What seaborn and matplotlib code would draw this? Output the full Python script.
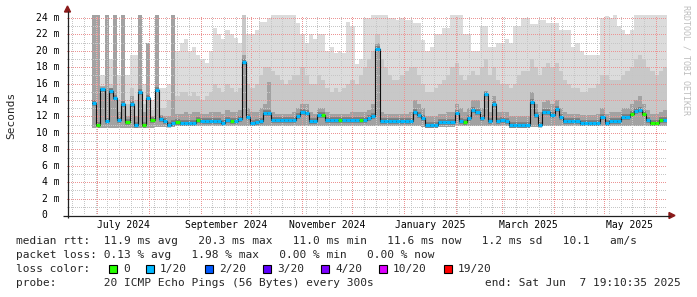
import datetime as dt
import numpy as np
import pandas as pd
import matplotlib
matplotlib.use("Agg")
import matplotlib.pyplot as plt
import matplotlib.dates as mdates
import matplotlib.transforms as mtransforms
from matplotlib.ticker import MultipleLocator, NullFormatter
from matplotlib.patches import Rectangle, Polygon
import seaborn as sns

# ---------------- data ----------------
END = dt.datetime(2025, 6, 7, 19, 10, 35)
SPAN_DAYS = 360
STEP_DAYS = 2.5
FIRST_COLUMN = 6          # first column (of 2.5 days) that holds data

# median rtt per column (ms)
median_ms = [
    13.7, 11.0, 15.3, 11.4, 15.1, 14.3, 11.6, 13.5, 11.3, 13.5,
    11.0, 15.0, 11.0, 14.2, 11.6, 15.2, 11.7, 11.4, 11.0, 11.2,
    11.3, 11.2, 11.2, 11.2, 11.2, 11.6, 11.4, 11.4, 11.4, 11.4,
    11.4, 11.2, 11.6, 11.4, 11.4, 11.7, 18.6, 11.9, 11.2, 11.3,
    11.5, 12.4, 12.4, 11.6, 11.6, 11.6, 11.6, 11.6, 11.6, 12.0,
    12.5, 12.4, 11.4, 11.4, 12.2, 12.2, 11.6, 11.6, 11.6, 11.6,
    11.6, 11.6, 11.6, 11.6, 11.6, 11.6, 11.8, 12.1, 20.2, 11.4,
    11.4, 11.4, 11.4, 11.4, 11.4, 11.4, 11.4, 12.6, 12.2, 11.8,
    11.0, 11.0, 11.0, 11.3, 11.3, 11.3, 11.3, 12.4, 11.5, 11.3,
    11.8, 12.8, 12.5, 11.8, 14.7, 11.4, 13.5, 11.5, 11.6, 11.5,
    11.0, 11.0, 11.0, 11.0, 11.0, 13.8, 12.2, 11.0, 12.6, 12.6,
    12.2, 12.9, 11.9, 11.4, 11.4, 11.4, 11.4, 11.2, 11.2, 11.2,
    11.2, 11.2, 11.9, 11.2, 11.4, 11.4, 11.4, 11.9, 11.9, 12.3,
    12.7, 12.8, 12.3, 11.6, 11.2, 11.2, 11.6, 11.6,
]

# loss level per column: 0 -> "0", 1 -> "1/20"
loss_level = [
    1, 0, 1, 1, 1, 1, 1, 1, 0, 1,
    1, 1, 0, 1, 0, 1, 1, 1, 1, 1,
    0, 1, 1, 1, 1, 0, 1, 1, 1, 1,
    1, 1, 1, 0, 1, 1, 1, 1, 1, 1,
    1, 1, 1, 1, 1, 1, 1, 1, 1, 1,
    1, 1, 1, 1, 1, 0, 1, 1, 1, 0,
    1, 1, 1, 1, 0, 1, 1, 1, 1, 1,
    1, 1, 1, 1, 1, 1, 1, 1, 1, 1,
    1, 1, 1, 1, 1, 1, 1, 1, 1, 0,
    1, 1, 1, 1, 1, 1, 1, 1, 1, 1,
    1, 1, 1, 1, 1, 1, 1, 1, 1, 1,
    1, 1, 1, 1, 1, 1, 1, 1, 1, 1,
    1, 1, 1, 1, 1, 1, 1, 1, 1, 0,
    1, 1, 0, 1, 0, 0, 0, 1,
]

# smoke: highest ping per column (ms)
smoke_top = [
    22.0, 24.4, 17.0, 24.4, 19.0, 24.4, 17.0, 24.4, 17.0, 19.5,
    19.5, 24.4, 16.0, 21.0, 14.0, 24.4, 15.5, 15.5, 16.0, 24.4,
    20.0, 21.0, 21.5, 20.0, 20.5, 19.5, 19.0, 18.5, 20.0, 22.8,
    22.0, 21.5, 22.5, 22.0, 21.6, 21.0, 24.4, 22.0, 22.0, 22.5,
    23.5, 23.5, 24.0, 24.4, 24.4, 24.4, 24.4, 24.4, 24.4, 23.4,
    22.0, 21.0, 22.0, 21.5, 22.0, 22.0, 20.0, 20.5, 19.7, 20.0,
    19.7, 23.5, 23.0, 18.4, 19.0, 24.0, 24.0, 24.4, 24.4, 24.4,
    24.4, 24.0, 24.0, 23.8, 24.0, 23.8, 23.8, 23.4, 23.4, 21.3,
    20.0, 20.5, 22.0, 22.0, 22.8, 22.8, 24.4, 24.4, 24.4, 22.0,
    22.0, 20.0, 20.0, 23.0, 23.0, 20.5, 20.5, 21.0, 21.0, 21.5,
    21.0, 23.0, 23.0, 24.0, 24.0, 23.3, 23.3, 23.8, 23.8, 23.4,
    23.4, 23.4, 22.5, 22.5, 22.5, 20.5, 21.0, 20.0, 19.5, 19.5,
    19.5, 19.5, 24.0, 24.2, 24.0, 24.4, 23.0, 22.5, 22.0, 22.5,
    24.4, 24.4, 24.4, 24.4, 24.4, 24.4, 24.4, 24.4,
]

# smoke: upper edge of the medium grey part (ms)
smoke_mid = [
    17.0, 24.4, 15.5, 24.4, 16.0, 24.4, 14.0, 24.4, 13.5, 15.5,
    14.0, 24.4, 13.5, 21.0, 12.8, 24.4, 13.0, 13.0, 14.0, 24.4,
    14.5, 15.0, 15.0, 14.5, 15.0, 14.5, 14.0, 14.5, 15.0, 16.0,
    15.5, 15.0, 16.0, 15.5, 15.0, 15.5, 24.4, 16.0, 15.5, 16.0,
    17.0, 18.0, 18.0, 17.5, 17.0, 16.5, 16.0, 16.5, 17.0, 17.0,
    18.0, 17.0, 16.0, 16.0, 17.0, 16.5, 15.5, 15.0, 15.5, 15.0,
    15.5, 16.0, 16.5, 16.0, 17.0, 18.0, 19.0, 20.0, 22.0, 19.0,
    18.0, 17.0, 16.5, 16.5, 17.0, 17.5, 18.0, 18.0, 17.0, 16.0,
    15.0, 15.0, 15.5, 16.0, 16.5, 17.0, 18.0, 18.5, 17.0, 16.5,
    17.0, 17.5, 17.0, 18.0, 19.0, 17.0, 18.0, 16.5, 16.0, 16.0,
    15.5, 16.0, 17.0, 17.5, 17.5, 19.0, 18.0, 17.0, 18.0, 18.5,
    18.0, 18.5, 17.5, 16.5, 16.0, 15.5, 15.5, 15.0, 15.0, 15.5,
    15.5, 16.0, 17.0, 17.0, 16.5, 16.5, 16.5, 17.0, 17.5, 18.0,
    19.0, 19.5, 19.0, 18.0, 17.5, 17.0, 17.5, 18.0,
]

# smoke: upper edge of the dark grey part (ms)
smoke_dark = [
    24.4, 24.4, 15.5, 24.4, 15.5, 24.4, 12.5, 24.4, 12.0, 14.5,
    12.0, 24.4, 12.5, 21.0, 12.0, 24.4, 12.2, 12.0, 12.0, 24.4,
    12.3, 12.3, 12.5, 12.3, 12.5, 12.5, 12.3, 12.3, 12.5, 12.5,
    12.5, 12.3, 12.8, 12.5, 12.5, 12.8, 19.5, 13.0, 12.5, 12.5,
    13.0, 13.5, 16.2, 12.5, 12.3, 12.3, 12.3, 12.3, 12.5, 13.0,
    13.5, 13.5, 12.5, 12.3, 13.0, 13.0, 12.5, 12.3, 12.3, 12.3,
    12.3, 12.3, 12.5, 12.5, 12.5, 12.5, 12.8, 13.5, 21.0, 12.5,
    12.3, 12.3, 12.3, 12.3, 12.3, 12.3, 12.5, 14.0, 13.5, 13.0,
    12.0, 12.0, 12.0, 12.3, 12.3, 12.5, 12.5, 13.5, 13.0, 12.5,
    13.0, 14.0, 14.0, 13.0, 15.0, 12.5, 14.5, 12.5, 12.5, 12.5,
    12.0, 12.0, 12.0, 12.0, 12.0, 15.0, 13.5, 12.5, 13.8, 14.0,
    13.5, 14.0, 13.0, 12.5, 12.3, 12.3, 12.3, 12.2, 12.2, 12.2,
    12.2, 12.3, 13.0, 12.3, 12.5, 12.5, 12.5, 13.0, 13.0, 13.5,
    14.0, 14.5, 13.5, 12.8, 12.3, 12.3, 12.5, 12.8,
]

# smoke: lowest ping per column (ms)
smoke_floor = [
    10.6, 10.6, 10.6, 10.6, 10.6, 10.6, 10.6, 10.6, 10.6, 10.6,
    10.6, 10.6, 10.6, 10.6, 10.6, 10.7, 10.7, 10.7, 10.7, 10.7,
    10.8, 10.8, 10.8, 10.8, 10.8, 10.8, 10.8, 10.8, 10.8, 10.8,
    10.8, 10.8, 10.8, 10.8, 10.8, 10.8, 10.8, 10.8, 10.8, 10.8,
    10.9, 10.9, 10.9, 10.9, 10.9, 10.9, 10.9, 10.9, 10.9, 10.9,
    10.9, 10.9, 10.9, 10.9, 10.9, 10.9, 10.9, 10.9, 10.9, 10.9,
    10.9, 10.9, 10.9, 10.9, 10.9, 10.9, 10.9, 10.9, 10.9, 10.9,
    10.9, 10.9, 10.9, 10.9, 10.9, 10.9, 10.9, 10.9, 10.8, 10.7,
    10.6, 10.6, 10.6, 10.7, 10.7, 10.7, 10.7, 10.8, 10.8, 10.8,
    10.8, 10.8, 10.8, 10.8, 10.8, 10.8, 10.8, 10.8, 10.8, 10.8,
    10.6, 10.6, 10.6, 10.6, 10.6, 10.7, 10.7, 10.7, 10.8, 10.8,
    10.8, 10.8, 10.8, 10.8, 10.8, 10.8, 10.8, 10.8, 10.8, 10.8,
    10.8, 10.8, 10.8, 10.8, 10.8, 10.8, 10.8, 10.8, 10.8, 10.8,
    10.8, 10.8, 10.8, 10.8, 10.8, 10.8, 10.8, 10.8,
]

y_ticks_ms = [0, 2, 4, 6, 8, 10, 12, 14, 16, 18, 20, 22, 24]
month_labels = ["July 2024", "September 2024", "November 2024",
                "January 2025", "March 2025", "May 2025"]
month_starts = [(2024, 7), (2024, 9), (2024, 11), (2025, 1), (2025, 3), (2025, 5)]

loss_labels = ["0", "1/20", "2/20", "3/20", "4/20", "10/20", "19/20"]
loss_colors = ["#26ff00", "#00b8ff", "#0059ff", "#5e00ff", "#7e00ff", "#dd00ff", "#ff0000"]

line_rtt = "median rtt:  11.9 ms avg   20.3 ms max   11.0 ms min   11.6 ms now   1.2 ms sd   10.1   am/s"
line_loss = "packet loss: 0.13 % avg   1.98 % max   0.00 % min   0.00 % now"
line_color = "loss color:"
line_probe = "probe:       20 ICMP Echo Pings (56 Bytes) every 300s"
line_end = "end: Sat Jun  7 19:10:35 2025"
y_title = "Seconds"
watermark = "RRDTOOL / TOBI OETIKER"

# ---------------- drawing ----------------
sns.set_style("white")
plt.rcParams["font.family"] = ["DejaVu Sans Mono", "DejaVu Sans"]

W, H = 697, 297
fig = plt.figure(figsize=(W / 100, H / 100), dpi=100)
fig.patch.set_facecolor("white")

PX_PER_MS = 197 / 24.0
Y_TOP = 200 / PX_PER_MS
ax = fig.add_axes([67 / W, (H - 215) / H, 600 / W, 200 / H])
ax.set_facecolor("white")

start = END - dt.timedelta(days=SPAN_DAYS)
x0 = mdates.date2num(start)
x1 = mdates.date2num(END)
n = len(median_ms)
edges = x0 + (FIRST_COLUMN + np.arange(n + 1)) * STEP_DAYS

ax.stairs(smoke_top, edges, baseline=smoke_floor, fill=True, color="#dcdcdc", lw=0, zorder=1.0)
ax.stairs(smoke_mid, edges, baseline=smoke_floor, fill=True, color="#c8c8c8", lw=0, zorder=1.1)
ax.stairs(smoke_dark, edges, baseline=smoke_floor, fill=True, color="#a2a2a2", lw=0, zorder=1.2)

med = np.asarray(median_ms)
lvl = np.asarray(loss_level)
# dark haze around the median (horizontal only)
ax.hlines(med, edges[:-1], edges[1:], colors="#303030", lw=4.0, alpha=0.35, zorder=1.5)

df = pd.DataFrame({"t": edges, "rtt": list(median_ms) + [median_ms[-1]]})
sns.lineplot(data=df, x="t", y="rtt", drawstyle="steps-post", color="#101010",
             lw=0.8, estimator=None, ax=ax, zorder=3)

for k, col in enumerate(loss_colors):
    m = lvl == k
    if m.any():
        ax.hlines(med[m], edges[:-1][m], edges[1:][m], colors=col, lw=2.3, zorder=4)

ax.set_xlim(x0, x1)
ax.set_ylim(0, Y_TOP)
ax.set_xlabel("")
ax.set_ylabel("")

ax.xaxis.set_major_locator(mdates.MonthLocator())
ax.xaxis.set_minor_locator(mdates.WeekdayLocator(byweekday=mdates.SU))
ax.xaxis.set_major_formatter(NullFormatter())
ax.xaxis.set_minor_formatter(NullFormatter())
ax.yaxis.set_major_locator(MultipleLocator(2))
ax.yaxis.set_minor_locator(MultipleLocator(1))
ax.yaxis.set_major_formatter(NullFormatter())
ax.yaxis.set_minor_formatter(NullFormatter())
ax.set_axisbelow(False)
ax.grid(which="major", color="#ec9494", lw=0.72, ls=(0, (1, 1.5)), antialiased=False)
ax.grid(which="minor", color="#c6c6c6", lw=0.72, ls=(0, (1, 1.5)), antialiased=False)
for s in ax.spines.values():
    s.set_visible(False)
ax.tick_params(which="both", direction="out", color="#404040", width=0.72)
ax.tick_params(which="major", length=2.2)
ax.tick_params(which="minor", length=1.5)

# y tick labels
ylab_tr = mtransforms.blended_transform_factory(ax.transAxes, ax.transData)
for v in y_ticks_ms:
    lab = f"{v} m" if v else "0  "
    ax.text(-7 / 600, v, lab, transform=ylab_tr, ha="right", va="center",
            fontsize=7, color="black")

# month labels centred within their month
for lab, (yy, mm) in zip(month_labels, month_starts):
    a = dt.datetime(yy, mm, 1)
    b = dt.datetime(yy + (mm // 12), mm % 12 + 1, 1)
    mid = mdates.date2num(a) + (mdates.date2num(b) - mdates.date2num(a)) / 2
    ax.text(mid, -10 / 200, lab, transform=ax.get_xaxis_transform(),
            ha="center", va="center", fontsize=7, color="black")

# overlay in pixel coordinates
ov = fig.add_axes([0, 0, 1, 1], zorder=10)
ov.set_xlim(0, W)
ov.set_ylim(H, 0)
ov.axis("off")
ov.plot([63, 670], [215.5, 215.5], color="#202020", lw=0.9, solid_capstyle="butt")
ov.plot([67.5, 67.5], [218, 11], color="#202020", lw=0.9, solid_capstyle="butt")
ov.add_patch(Polygon([[64.5, 12], [70.5, 12], [67.5, 6]], closed=True, color="#8b1a1a"))
ov.add_patch(Polygon([[669, 212.5], [669, 218.5], [675, 215.5]], closed=True, color="#8b1a1a"))

ov.text(11, 115, y_title, rotation=90, ha="center", va="center", fontsize=8)
ov.text(686, 5, watermark, rotation=270, ha="center", va="top", fontsize=6, color="#bdbdbd")

ov.text(16, 241, line_rtt, ha="left", va="center", fontsize=8)
ov.text(16, 255, line_loss, ha="left", va="center", fontsize=8)
ov.text(16, 269, line_color, ha="left", va="center", fontsize=8)
box_x = [109, 146, 205, 263, 321, 379, 444]
for bx, lab, col in zip(box_x, loss_labels, loss_colors):
    ov.add_patch(Rectangle((bx, 265), 8, 8, facecolor=col, edgecolor="black", lw=0.8))
    ov.text(bx + 14, 269, lab, ha="left", va="center", fontsize=8)
ov.text(16, 283, line_probe, ha="left", va="center", fontsize=8)
ov.text(681, 283, line_end, ha="right", va="center", fontsize=8)

fig.savefig("out.png", dpi=100, facecolor="white")
